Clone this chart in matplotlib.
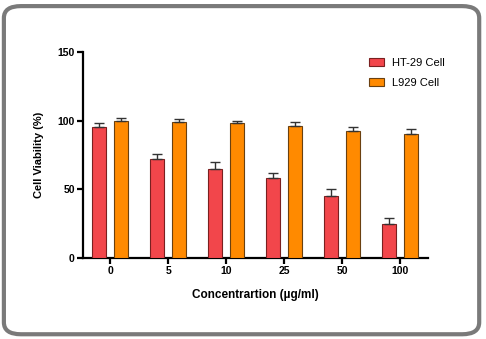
import matplotlib
matplotlib.use("Agg")
import matplotlib.pyplot as plt
import numpy as np
from matplotlib.patches import FancyBboxPatch

categories = ["0", "5", "10", "25", "50", "100"]
ht29 = [95, 72, 65, 58, 45, 25]
ht29_err = [3, 4, 5, 4, 5, 4]
l929 = [100, 99, 98, 96, 92.5, 90]
l929_err = [2, 2, 2, 3, 3, 4]
series_labels = ["HT-29 Cell", "L929 Cell"]
yticks = [0, 50, 100, 150]

plt.rcParams['font.family'] = ['Liberation Sans', 'DejaVu Sans']

fig = plt.figure(figsize=(4.86, 3.39), dpi=100)
ax = fig.add_axes([0.171, 0.239, 0.710, 0.608])

x = np.arange(len(categories))
w = 0.24
off = 0.19
ax.bar(x - off, ht29, w, color="#F2464B", edgecolor="#7a2020", linewidth=0.8,
       yerr=[np.zeros(len(ht29)), ht29_err], capsize=3.5,
       error_kw=dict(ecolor="#333333", elinewidth=1.0, capthick=1.0),
       label=series_labels[0], zorder=3)
ax.bar(x + off, l929, w, color="#FF8A00", edgecolor="#6a4010", linewidth=0.8,
       yerr=[np.zeros(len(l929)), l929_err], capsize=3.5,
       error_kw=dict(ecolor="#333333", elinewidth=1.0, capthick=1.0),
       label=series_labels[1], zorder=3)

ax.set_xlim(-0.47, 5.48)
ax.set_ylim(0, 150)
ax.set_yticks(yticks)
ax.set_xticks(x)
ax.set_xticklabels(categories)
for s in ["top", "right"]:
    ax.spines[s].set_visible(False)
for s in ["left", "bottom"]:
    ax.spines[s].set_linewidth(1.6)
ax.tick_params(axis="both", width=1.6, length=4, labelsize=7.5, pad=2)
for lbl in ax.get_xticklabels() + ax.get_yticklabels():
    lbl.set_fontweight("bold")

ax.set_xlabel("Concentrartion (µg/ml)", fontsize=8.5, fontweight="bold", labelpad=9)
ax.set_ylabel("Cell Viability (%)", fontsize=8, fontweight="bold", labelpad=10)

leg = ax.legend(loc="upper left", bbox_to_anchor=(0.80, 1.02), frameon=False,
                fontsize=8, handlelength=1.3, handleheight=0.8, labelspacing=0.9,
                handletextpad=0.8)

border = FancyBboxPatch((0.008, 0.014), 0.978, 0.968,
                        boxstyle="round,pad=0,rounding_size=0.035",
                        transform=fig.transFigure, facecolor="none",
                        edgecolor="#7a7a7a", linewidth=3, zorder=10)
fig.patches.append(border)

fig.savefig("out.png", dpi=100)
